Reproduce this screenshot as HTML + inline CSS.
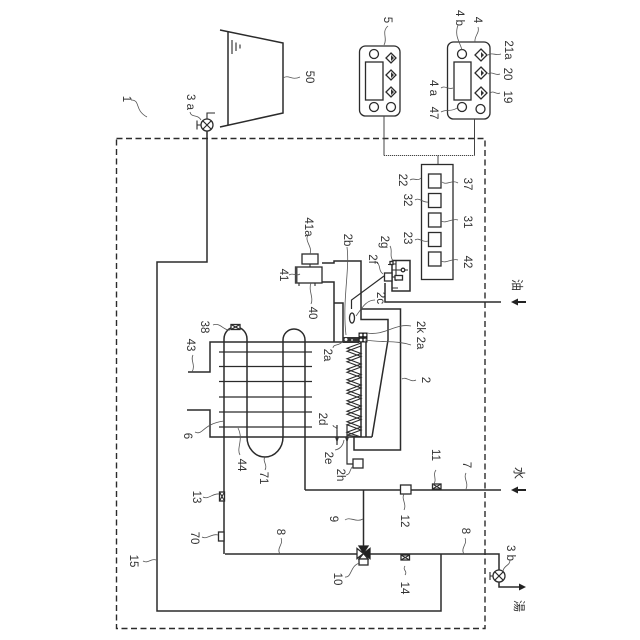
<!DOCTYPE html>
<html><head><meta charset="utf-8"><style>
html,body{margin:0;padding:0;background:#fff}
svg{display:block}
.p{fill:none;stroke:#2b2b2b;stroke-width:1.5}
.t{fill:none;stroke:#2b2b2b;stroke-width:1.1}
.w{fill:#fff;stroke:#2b2b2b;stroke-width:1.3}
.s{fill:none;stroke:#555;stroke-width:.8}
text{font:11.5px "Liberation Sans","Noto Sans CJK JP",sans-serif;fill:#333;text-anchor:middle;dominant-baseline:central}
</style></head><body>
<svg width="640" height="640" viewBox="0 0 640 640" xmlns="http://www.w3.org/2000/svg">
<rect x="116.5" y="138.5" width="368.5" height="490" fill="none" stroke="#2b2b2b" stroke-width="1.4" stroke-dasharray="6 3.5"/>

<path class="p" d="M220 30L283 43V113L220 127"/>
<path class="p" d="M228 32V125"/>
<path class="t" d="M232 40V54M236 42.5V51M240 44.5V48.5"/>

<path class="p" d="M207 131V262H157V611H441V554"/>
<circle class="w" cx="207" cy="125" r="6"/>
<path class="t" d="M202.8 120.8L211.2 129.2M211.2 120.8L202.8 129.2M207 119V113H215M201 125H197M197 120.5V129.5"/>

<rect class="w" x="359.5" y="46" width="40.5" height="70" rx="6"/>
<rect class="w" x="365.5" y="62" width="17.5" height="38"/>
<circle class="w" cx="374" cy="54" r="4.5"/><circle class="w" cx="374" cy="107" r="4.5"/><circle class="w" cx="391" cy="107" r="4.5"/>
<path class="w" d="M391 53l5 5-5 5-5-5zM391 70l5 5-5 5-5-5zM391 87l5 5-5 5-5-5z"/>
<path d="M391 55l3 3-3 3zM391 72l3 3-3 3zM391 89l3 3-3 3z" fill="#333"/>
<rect class="w" x="447.5" y="42" width="42.5" height="77" rx="6"/>
<rect class="w" x="454" y="62" width="17" height="38"/>
<circle class="w" cx="462" cy="54" r="4.5"/><circle class="w" cx="462" cy="107" r="4.5"/><circle class="w" cx="480.5" cy="109" r="4.5"/>
<path class="w" d="M481 49l6 6-6 6-6-6zM481 67l6 6-6 6-6-6zM481 87l6 6-6 6-6-6z"/>
<path d="M481 52l3 3-3 3zM481 70l3 3-3 3zM481 90l3 3-3 3z" fill="#333"/>
<path fill="none" stroke="#444" stroke-width="1" d="M384 116V155.5M474.5 119V155.5M438 155.5V164"/>
<path fill="none" stroke="#444" stroke-width="1.1" stroke-dasharray="1.2 .8" d="M384 155.5H474.5"/>

<rect class="w" x="421.5" y="164.5" width="31.5" height="115"/>
<rect class="w" x="428.5" y="174" width="12.5" height="14"/><rect class="w" x="428.5" y="193.5" width="12.5" height="14"/><rect class="w" x="428.5" y="213" width="12.5" height="14"/><rect class="w" x="428.5" y="232.5" width="12.5" height="14"/><rect class="w" x="428.5" y="252" width="12.5" height="14"/>

<path class="p" d="M188 372H210V342H343M187 410H210V437H372"/>
<path class="p" d="M224 554V339A11.5 12 0 0 1 247 339V437A18 20 0 0 0 283 437V340A11 11 0 0 1 305 340V490"/>
<path class="p" d="M219 352H312M219 366.5H312M219 381.5H312M219 397H312M219 412H312M219 427H312" style="stroke-width:1.2"/>

<path class="p" d="M322 263H334V261H361V309H400.5V450H354V437"/>
<path class="p" d="M322 282H334V342M334 303H343V342"/>
<path class="p" d="M361 309V319.5H388V340L372 437"/>
<path class="p" d="M361 342V437M366 342V437"/>
<path class="t" d="M361 343L347 348.25L361 353.5L347 358.75L361 364L347 369.25L361 374.5L347 379.75L361 385L347 390.25L361 395.5L347 400.75L361 406L347 411.25L361 416.5L347 421.75L361 427L347 432.25L361 437"/>
<path class="t" transform="translate(0,3)" d="M361 343L347 348.25L361 353.5L347 358.75L361 364L347 369.25L361 374.5L347 379.75L361 385L347 390.25L361 395.5L347 400.75L361 406L347 411.25L361 416.5L347 421.75L361 427L347 432.25L361 434"/>
<rect x="343" y="337" width="16" height="6" fill="#333"/>
<circle cx="346" cy="339.5" r="1.5" fill="#fff"/><circle cx="352" cy="340" r="1" fill="#ccc"/>
<rect x="358.5" y="332.5" width="9" height="10" fill="#222"/>
<circle cx="361" cy="335" r="1.4" fill="#fff"/><circle cx="365" cy="335" r="1.4" fill="#fff"/><circle cx="361" cy="340" r="1.4" fill="#fff"/><circle cx="365" cy="340" r="1.4" fill="#fff"/>

<rect class="w" x="295.5" y="267" width="26.5" height="16"/>
<rect class="w" x="302" y="254" width="16" height="10"/>
<path class="t" d="M310 264V267M299 283V286M315 283V286"/>
<rect x="295" y="267" width="2.5" height="16" fill="#444"/>

<path class="p" d="M392 260.5H410V291H392V260.5"/>
<path class="t" d="M388 264.5H392M392 264H396M392 270H408M396 260V281M392 288H398"/>
<circle class="w" cx="403" cy="270" r="1.8"/>
<rect class="w" x="390" y="261.5" width="3" height="3"/>
<rect class="w" x="384.5" y="273" width="7.5" height="8"/>
<rect class="w" x="395" y="275.5" width="7.5" height="4.5"/>
<path class="t" d="M392 277H395"/>
<path class="p" d="M384 276L351.5 300V309" style="stroke-width:1.2"/>
<ellipse class="w" cx="352" cy="318" rx="2.5" ry="5"/>
<path class="p" d="M385 283V302H501"/>
<path d="M511 302L518 298.5V301H526V303H518V305.5Z" fill="#222"/>

<path class="p" d="M305 490H501M363.5 490V546M225 554H499V587H520"/>
<path d="M511 490L518 486.5V489H526V491H518V493.5Z" fill="#222"/>
<path d="M526 587L519 583.5V590.5Z" fill="#222"/>
<rect class="w" x="400.5" y="485" width="10.5" height="9"/>
<rect class="w" x="218.5" y="532" width="5.5" height="9"/>
<rect class="w" x="432.5" y="484" width="8.5" height="5"/>
<rect class="w" x="401" y="555" width="8.5" height="5"/>
<rect class="w" x="219.5" y="492" width="5" height="9"/>
<rect class="w" x="231" y="324.5" width="9" height="5"/>
<path class="t" d="M432.5 484l8.5 5M441 484l-8.5 5M401 555l8.5 5M409.5 555l-8.500 5M219.5 492l5 9M224.5 492l-5 9M231 324.5l9 5M240 324.5l-9 5"/>
<path class="w" d="M359 546H368L363.5 553ZM357 548.5V558.5L363.5 553.5ZM370 548.5V558.5L363.5 553.5ZM363.5 553.5L359 559H368Z"/>
<path d="M359 546H368L363.5 553ZM370 548.5V558.5L363.5 553.5Z" fill="#222"/>
<rect class="w" x="359" y="559" width="9" height="6"/>
<circle class="w" cx="499" cy="576" r="6"/>
<path class="t" d="M494.8 571.8L503.2 580.2M503.2 571.8L494.8 580.2M493 576H490M490 572V580"/>

<path class="p" d="M337 425V445M347 425V464H353" style="stroke-width:1.2"/>
<path d="M335 437h4l-2 6zM345 437h4l-2 6z" fill="#333"/>
<rect class="w" x="353" y="459" width="10" height="9"/>

<g class="s">
<path d="M131 100C141 100 134 110 147 117"/>
<path d="M190 112C191 118 198 114 201 120"/>
<path d="M283 78C289 74 291 81 300 77"/>
<path d="M384 45C388 38 381 32 388 26"/>
<path d="M462 50C460 42 454 36 458 25"/>
<path d="M475 42C474 36 480 33 478 27"/>
<path d="M488 55C493 52 495 56 501 54"/>
<path d="M488 74C493 71 495 76 500 74"/>
<path d="M490 93C494 90 496 95 500 93"/>
<path d="M441 88C445 85 448 90 453 88"/>
<path d="M441 112C446 109 452 112 457 108"/>
<path d="M410 180C414 177 417 182 421 178"/>
<path d="M442 182C447 186 452 179 458 183"/>
<path d="M415 200C419 197 423 203 428 202"/>
<path d="M441 221C446 224 452 218 458 220"/>
<path d="M415 240C419 237 423 243 428 241"/>
<path d="M441 261C446 264 452 258 458 260"/>
<path d="M390 246C393 251 389 255 393 261"/>
<path d="M377 262C381 266 378 270 383 274"/>
<path d="M347 247C350 270 342 300 346 335"/>
<path d="M375 300C366 300 362 308 356 316"/>
<path d="M308 235C304 241 313 247 310 254"/>
<path d="M289 275C293 272 296 277 300 274"/>
<path d="M311 304C314 298 308 290 311 283"/>
<path d="M333 348C333 344 339 346 342 342"/>
<path d="M411 345C395 340 385 343 365 340"/>
<path d="M411 326C395 323 385 336 367 333"/>
<path d="M402 379C406 376 411 383 416 380"/>
<path d="M213 325C220 322 224 331 230 330"/>
<path d="M193 355C190 360 196 365 192 372"/>
<path d="M195 432C203 436 202 424 224 421"/>
<path d="M240 455C236 448 244 440 238 428"/>
<path d="M265 457C262 461 268 465 265 470"/>
<path d="M333 425C333 428 337 426 337 430"/>
<path d="M335 450C340 449 343 446 344 440"/>
<path d="M346 475C351 474 349 470 353 466"/>
<path d="M436 470C432 475 438 480 433 485"/>
<path d="M466 473C463 478 469 483 466 489"/>
<path d="M404 494C401 499 407 504 404 510"/>
<path d="M203 497C208 500 213 493 219 494"/>
<path d="M202 537C207 540 212 533 218 535"/>
<path d="M143 561C148 564 151 558 156 560"/>
<path d="M281 538C284 544 276 548 280 554"/>
<path d="M345 520C350 516 356 523 363 519"/>
<path d="M345 577C352 578 350 565 360 563"/>
<path d="M405 566C402 570 408 571 405 575"/>
<path d="M465 538C468 544 460 548 464 554"/>
<path d="M510 560C510 566 504 565 503 571"/>
</g>

<text transform="translate(126,99) rotate(90)">1</text>
<text transform="translate(190,102) rotate(90)">3 a</text>
<text transform="translate(309,77) rotate(90)">50</text>
<text transform="translate(387,20) rotate(90)">5</text>
<text transform="translate(459,18) rotate(90)">4 b</text>
<text transform="translate(477,20) rotate(90)">4</text>
<text transform="translate(508,50) rotate(90)">21a</text>
<text transform="translate(507,74) rotate(90)">20</text>
<text transform="translate(507,97) rotate(90)">19</text>
<text transform="translate(433,88) rotate(90)">4 a</text>
<text transform="translate(433,113) rotate(90)">47</text>
<text transform="translate(402,180) rotate(90)">22</text>
<text transform="translate(467,184) rotate(90)">37</text>
<text transform="translate(407,200) rotate(90)">32</text>
<text transform="translate(467,222) rotate(90)">31</text>
<text transform="translate(407,238) rotate(90)">23</text>
<text transform="translate(467,262) rotate(90)">42</text>
<text transform="translate(384,242) rotate(90)">2g</text>
<text transform="translate(372,259) rotate(90)">2f</text>
<text transform="translate(347,240) rotate(90)">2b</text>
<text transform="translate(380,298) rotate(90)">2c</text>
<text transform="translate(308,227) rotate(90)">41a</text>
<text transform="translate(283,275) rotate(90)">41</text>
<text transform="translate(312,313) rotate(90)">40</text>
<text transform="translate(327,355) rotate(90)">2a</text>
<text transform="translate(420,343) rotate(90)">2a</text>
<text transform="translate(420,327) rotate(90)">2k</text>
<text transform="translate(425,380) rotate(90)">2</text>
<text transform="translate(204,327) rotate(90)">38</text>
<text transform="translate(190,345) rotate(90)">43</text>
<text transform="translate(187,436) rotate(90)">6</text>
<text transform="translate(241,465) rotate(90)">44</text>
<text transform="translate(263,478) rotate(90)">71</text>
<text transform="translate(322,419) rotate(90)">2d</text>
<text transform="translate(328,458) rotate(90)">2e</text>
<text transform="translate(340,475) rotate(90)">2h</text>
<text transform="translate(435,455) rotate(90)">11</text>
<text transform="translate(466,465) rotate(90)">7</text>
<text transform="translate(404,521) rotate(90)">12</text>
<text transform="translate(196,497) rotate(90)">13</text>
<text transform="translate(194,538) rotate(90)">70</text>
<text transform="translate(133,561) rotate(90)">15</text>
<text transform="translate(280,532) rotate(90)">8</text>
<text transform="translate(333,519) rotate(90)">9</text>
<text transform="translate(337,579) rotate(90)">10</text>
<text transform="translate(404,588) rotate(90)">14</text>
<text transform="translate(465,531) rotate(90)">8</text>
<text transform="translate(510,553) rotate(90)">3 b</text>
<text style="font-size:12px" transform="translate(519,473) rotate(90)">水</text>
<text style="font-size:12px" transform="translate(519,606) rotate(90)">湯</text>
<text style="font-size:12px" transform="translate(517,285) rotate(90)">油</text>
</svg>
</body></html>
